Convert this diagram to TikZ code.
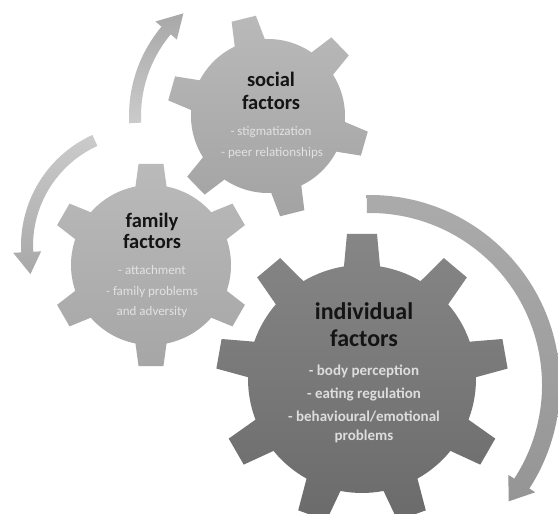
\documentclass[tikz,border=0pt]{standalone}
\usepackage{fontspec}
\setmainfont{Carlito}

\definecolor{socTop}{HTML}{B9B9B9}
\definecolor{socBot}{HTML}{A3A3A3}
\definecolor{famTop}{HTML}{BABABA}
\definecolor{famBot}{HTML}{A6A6A6}
\definecolor{indTop}{HTML}{868686}
\definecolor{indBot}{HTML}{6B6B6B}
\definecolor{arrLight}{HTML}{CBCBCB}
\definecolor{arrDark}{HTML}{A8A8A8}
\definecolor{arrRightTop}{HTML}{ABABAB}
\definecolor{arrRightBot}{HTML}{959595}
\definecolor{itemLight}{HTML}{E2E2E2}
\definecolor{itemInd}{HTML}{DDDDDD}
\definecolor{titleInk}{HTML}{141414}

% Closed gear outline around the current origin:
% #1 teeth, #2 angle of first tooth, #3 body radius, #4 tip radius,
% #5 half angle of a tooth at its root, #6 half angle at its tip
\newcommand\gearoutline[6]{%
  ({#2-#5}:{#3})
  \foreach \k in {1,...,#1}{
    -- ({#2+(\k-1)*360/#1-#6}:{#4}) -- ({#2+(\k-1)*360/#1+#6}:{#4})
    -- ({#2+(\k-1)*360/#1+#5}:{#3})
    arc[start angle={#2+(\k-1)*360/#1+#5}, end angle={#2+\k*360/#1-#5}, radius={#3}]
  } -- cycle}

% Curved band arrow around the current origin:
% #1 radius of the centre line, #2 half width of the band, #3 tail angle,
% #4 angle where the head starts, #5 angle of the tip, #6 half width of the head
\newcommand\ringarrow[6]{%
  ({#3}:{#1+#2}) arc[start angle={#3}, end angle={#4}, radius={#1+#2}]
  -- ({#4}:{#1+#6}) -- ({#5}:{#1}) -- ({#4}:{#1-#6}) -- ({#4}:{#1-#2})
  arc[start angle={#4}, end angle={#3}, radius={#1-#2}] -- cycle}

\begin{document}
\begin{tikzpicture}[x=1pt,y=1pt,
  lbl/.style={inner sep=0pt, anchor=base},
  smalltitle/.style={lbl, font=\bfseries\fontsize{20.5}{22}\selectfont, text=titleInk},
  bigtitle/.style={lbl, font=\bfseries\fontsize{24}{26}\selectfont, text=titleInk},
  lightitem/.style={lbl, font=\fontsize{13}{15}\selectfont, text=itemLight},
  darkitem/.style={lbl, font=\bfseries\fontsize{15}{17}\selectfont, text=itemInd},
  socialfill/.style={top color=socTop, bottom color=socBot},
  familyfill/.style={top color=famTop, bottom color=famBot},
  indivfill/.style={top color=indTop, bottom color=indBot},
]
\useasboundingbox (0,0) rectangle (558,514);
\clip (0,0) rectangle (558,514);
\fill[white] (0,0) rectangle (558,514);

% gear centres
\coordinate (socC) at (268,398);
\coordinate (famC) at (151,249);
\coordinate (indC) at (362,135);
% centres of the cycle arrows
\coordinate (arrTopC) at (268,398);
\coordinate (arrLeftC) at (143,268);
\coordinate (arrRightC) at (370,129);

% cycle arrows
\begin{scope}[shift={(arrTopC)}]
  \path[top color=arrDark, bottom color=arrLight] \ringarrow{133}{6}{183}{140}{129.5}{14};
\end{scope}
\begin{scope}[shift={(arrLeftC)}]
  \path[top color=arrLight, bottom color=arrDark] \ringarrow{116}{6}{114.5}{183}{194}{14};
\end{scope}
\begin{scope}[shift={(arrRightC)}]
  \path[top color=arrRightTop, bottom color=arrRightBot] \ringarrow{181}{9}{91}{-33}{-40}{16};
\end{scope}

% gears
\begin{scope}[shift={(socC)}]
  \path[socialfill] \gearoutline{6}{104}{77}{101}{11.6}{7.1};
\end{scope}
\begin{scope}[shift={(famC)}]
  \path[familyfill] \gearoutline{6}{90}{80}{102}{11.2}{7};
\end{scope}
\begin{scope}[shift={(indC)}]
  \path[indivfill] \gearoutline{9}{90}{114}{146}{9.1}{5.9};
\end{scope}

% social factors
\node[smalltitle] (socT1) at (271,427) {social};
\node[smalltitle] (socT2) at (271,404) {factors};
\node[lightitem] (socI1) at (271,378) {- stigmatization};
\node[lightitem] (socI2) at (272,357) {- peer relationships};

% family factors
\node[smalltitle] (famT1) at (152,286) {family};
\node[smalltitle] (famT2) at (152,265) {factors};
\node[lightitem] (famI1) at (152,239) {- attachment};
\node[lightitem] (famI2) at (152,218) {- family problems};
\node[lightitem] (famI3) at (152,198) {and adversity};

% individual factors
\node[bigtitle] (indT1) at (364,194) {individual};
\node[bigtitle] (indT2) at (364,167) {factors};
\node[darkitem] (indI1) at (364,138) {- body perception};
\node[darkitem] (indI2) at (364,115) {- eating regulation};
\node[darkitem] (indI3) at (364,92) {- behavioural/emotional};
\node[darkitem] (indI4) at (364,73) {problems};
\end{tikzpicture}
\end{document}
